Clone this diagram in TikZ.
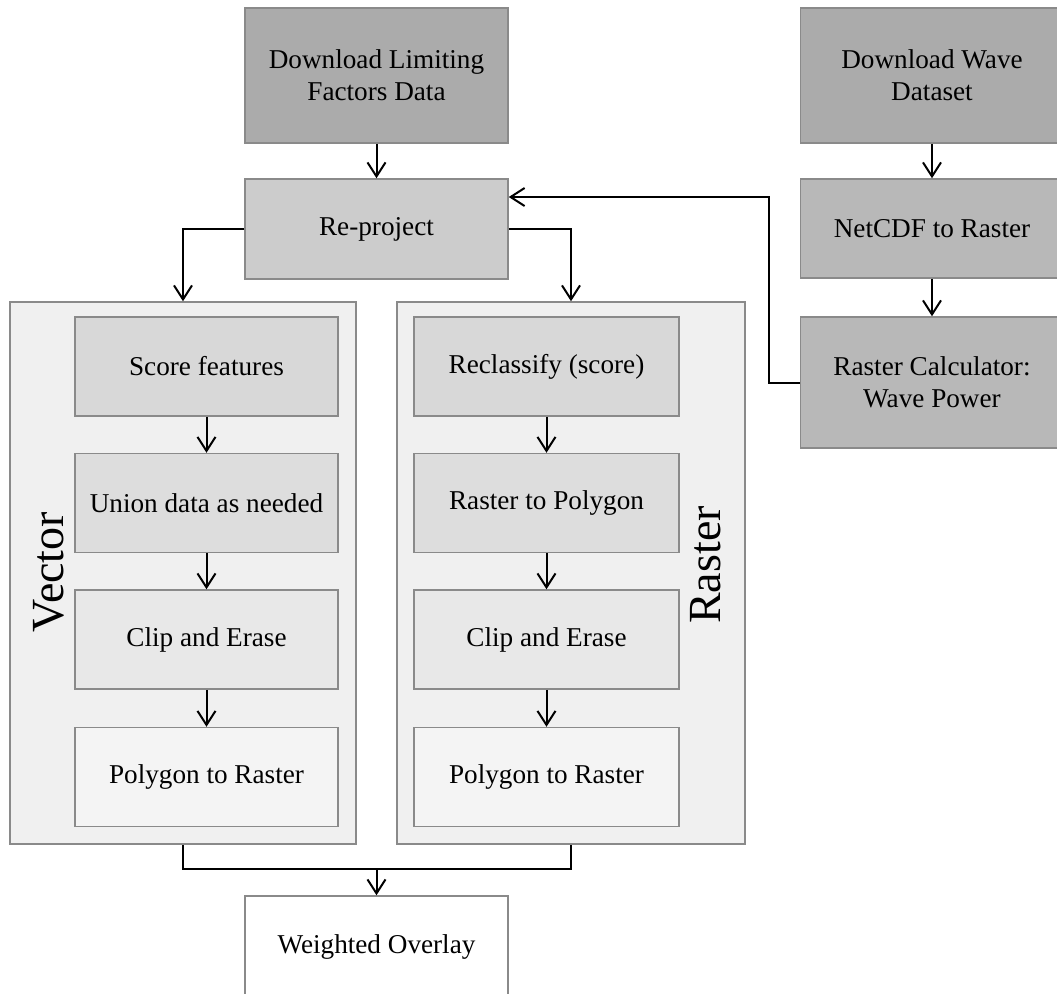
\documentclass[tikz,border=0pt]{standalone}
\usepackage{fontspec}
\setmainfont{Liberation Serif}
\usetikzlibrary{arrows.meta}

\definecolor{edgegray}{HTML}{8A8A8A}
\definecolor{dlgray}{HTML}{ABABAB}
\definecolor{ncgray}{HTML}{B8B8B8}
\definecolor{rpgray}{HTML}{CCCCCC}
\definecolor{scgray}{HTML}{D8D8D8}
\definecolor{ungray}{HTML}{DDDDDD}
\definecolor{clgray}{HTML}{E8E8E8}
\definecolor{pogray}{HTML}{F4F4F4}
\definecolor{grpgray}{HTML}{F0F0F0}

\begin{document}
\begin{tikzpicture}[
		x=0.5pt, y=-0.5pt,
		every node/.style={rectangle, draw=edgegray, line width=0.75pt, align=center,
			inner sep=2pt, font=\fontsize{13.6}{16}\selectfont},
		box/.style={minimum width=131.5pt, minimum height=49.5pt},
		rbox/.style={minimum width=132.5pt, minimum height=49.5pt},
		group/.style={fill=grpgray},
		side/.style={draw=none, rotate=90, font=\fontsize{23}{26}\selectfont},
		arr/.style={-{Straight Barb[length=7pt,width=9pt]}, line width=1pt, black},
		link/.style={line width=1pt, black}
	]
  \useasboundingbox (0,0) rectangle (1057,993);
  \node (vec) [group, minimum width=173pt, minimum height=271pt] at (183, 573) {};
  \node (ras) [group, minimum width=174pt, minimum height=271pt] at (571, 573) {};
  \node (vec_l) [side] at (49, 572) {Vector};
  \node (ras_l) [side] at (706, 565) {Raster};
  \node (dl) [box, fill=dlgray, minimum height=67.5pt] at (376.5, 75.5) {Download Limiting\\Factors Data};
  \node (dw) [box, fill=dlgray, minimum height=67.5pt] at (932, 75.5) {Download Wave\\Dataset};
  \node (rp) [box, fill=rpgray, minimum height=50pt] at (376.5, 229) {Re-project};
  \node (nc) [box, fill=ncgray] at (932, 228.5) {NetCDF to Raster};
  \node (rc) [box, fill=ncgray, minimum height=65.5pt] at (932, 382.5) {Raster Calculator:\\Wave Power};
  \node (v_sc) [box, fill=scgray] at (206.5, 366.5) {Score features};
  \node (v_un) [box, fill=ungray] at (206.5, 503) {Union data as needed};
  \node (v_cl) [box, fill=clgray] at (206.5, 639.5) {Clip and Erase};
  \node (v_po) [box, fill=pogray] at (206.5, 777) {Polygon to Raster};
  \node (r_rc) [rbox, fill=scgray] at (546.5, 366.5) {Reclassify (score)};
  \node (r_rp) [rbox, fill=ungray] at (546.5, 503) {Raster to Polygon};
  \node (r_cl) [rbox, fill=clgray] at (546.5, 639.5) {Clip and Erase};
  \node (r_po) [rbox, fill=pogray] at (546.5, 777) {Polygon to Raster};
  \node (wo) [box, fill=white, minimum height=51pt] at (376.5, 947) {Weighted Overlay};
  \coordinate (fb) at (769, 197);
  \coordinate (mj) at (376.5, 869);
  \draw[arr] (dl) -- (rp);
  \draw[arr] (dw) -- (nc);
  \draw[arr] (nc) -- (rc);
  \draw[arr] (rc.west) -| (fb) -- (rp.east |- fb);
  \draw[arr] (rp.west) -| (vec.north);
  \draw[arr] (rp.east) -| (ras.north);
  \draw[arr] (v_sc) -- (v_un);
  \draw[arr] (v_un) -- (v_cl);
  \draw[arr] (v_cl) -- (v_po);
  \draw[arr] (r_rc) -- (r_rp);
  \draw[arr] (r_rp) -- (r_cl);
  \draw[arr] (r_cl) -- (r_po);
  \draw[link] (vec.south) |- (mj) -| (ras.south);
  \draw[arr] (mj) -- (wo);
\end{tikzpicture}
\end{document}
